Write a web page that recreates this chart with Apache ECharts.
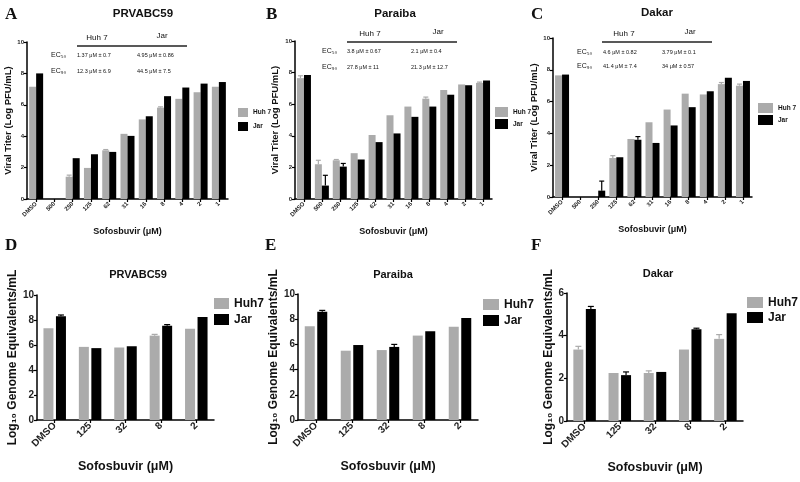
<!DOCTYPE html>
<html>
<head>
<meta charset="utf-8">
<script src="https://cdn.jsdelivr.net/npm/echarts@6/dist/echarts.min.js"></script>
<style>
  html, body { margin: 0; padding: 0; background: #fff; }
  #main { width: 800px; height: 482px; }
</style>
</head>
<body>
<div id="main"></div>
<script>
  // categories
  var topCats = ['DMSO', '500', '250', '125', '62', '31', '16', '8', '4', '2', '1'];
  var botCats = ['DMSO', '125', '32', '8', '2'];

  // A - PRVABC59 viral titer
  var aHuh7 = [7.15, 0, 1.42, 1.98, 3.1, 4.15, 5.07, 5.82, 6.38, 6.8, 7.15];
  var aJar = [8.0, 0, 2.6, 2.85, 3.0, 4.02, 5.27, 6.55, 7.1, 7.35, 7.45];
  var aHuh7Err = [0, 0, 0.1, 0, 0.05, 0, 0, 0.05, 0, 0, 0];
  var aJarErr = [0, 0, 0, 0, 0, 0, 0, 0, 0, 0, 0];
  // B - Paraiba
  var bHuh7 = [7.65, 2.2, 2.45, 2.9, 4.05, 5.3, 5.85, 6.35, 6.9, 7.25, 7.35];
  var bJar = [7.85, 0.85, 2.05, 2.5, 3.6, 4.15, 5.2, 5.85, 6.6, 7.2, 7.5];
  var bHuh7Err = [0.15, 0.25, 0.05, 0, 0, 0, 0, 0.1, 0, 0, 0.05];
  var bJarErr = [0, 0.65, 0.2, 0, 0, 0, 0, 0, 0, 0, 0];
  // C - Dakar
  var cHuh7 = [7.65, 0, 0, 2.45, 3.65, 4.7, 5.5, 6.5, 6.45, 7.1, 7.0];
  var cJar = [7.7, 0, 0.4, 2.5, 3.6, 3.4, 4.5, 5.65, 6.65, 7.5, 7.3];
  var cHuh7Err = [0, 0, 0, 0.15, 0, 0, 0, 0, 0, 0.1, 0.1];
  var cJarErr = [0, 0, 0.6, 0, 0.2, 0, 0, 0, 0, 0, 0];

  // D - PRVABC59 genome equivalents
  var dHuh7 = [7.35, 5.85, 5.8, 6.75, 7.3];
  var dJar = [8.3, 5.75, 5.9, 7.55, 8.25];
  var dHuh7Err = [0, 0, 0, 0.1, 0];
  var dJarErr = [0.1, 0, 0, 0.08, 0];
  // E - Paraiba
  var eHuh7 = [7.45, 5.5, 5.55, 6.7, 7.4];
  var eJar = [8.6, 5.95, 5.8, 7.05, 8.1];
  var eHuh7Err = [0, 0, 0, 0, 0];
  var eJarErr = [0.1, 0, 0.2, 0, 0];
  // F - Dakar
  var fHuh7 = [3.35, 2.25, 2.25, 3.35, 3.85];
  var fJar = [5.25, 2.15, 2.3, 4.3, 5.05];
  var fHuh7Err = [0.15, 0, 0.1, 0, 0.2];
  var fJarErr = [0.12, 0.15, 0, 0.05, 0];

  var GREY = '#ababab';
  var BLACK = '#000';
  var FONT = 'Liberation Sans';

  var panels = [
    {cats: topCats, huh: aHuh7, jar: aJar, huhE: aHuh7Err, jarE: aJarErr, grid: {left: 27, top: 42, width: 201, height: 157}, max: 10, top: true, yGap: 10},
    {cats: topCats, huh: bHuh7, jar: bJar, huhE: bHuh7Err, jarE: bJarErr, grid: {left: 295, top: 41, width: 197, height: 158}, max: 10, top: true, yGap: 15},
    {cats: topCats, huh: cHuh7, jar: cJar, huhE: cHuh7Err, jarE: cJarErr, grid: {left: 553, top: 38, width: 199, height: 159}, max: 10, top: true, yGap: 9},
    {cats: botCats, huh: dHuh7, jar: dJar, huhE: dHuh7Err, jarE: dJarErr, grid: {left: 37, top: 295, width: 177, height: 125}, max: 10, top: false, yGap: 12},
    {cats: botCats, huh: eHuh7, jar: eJar, huhE: eHuh7Err, jarE: eJarErr, grid: {left: 298, top: 294, width: 180, height: 126}, max: 10, top: false, yGap: 9},
    {cats: botCats, huh: fHuh7, jar: fJar, huhE: fHuh7Err, jarE: fJarErr, grid: {left: 567, top: 293, width: 176, height: 128}, max: 6, top: false, yGap: 12}
  ];

  var grids = [], xAxes = [], yAxes = [], series = [];

  function errSeries(i, vals, errs, offset, color, cap) {
    var data = [];
    for (var k = 0; k < vals.length; k++) {
      if (errs[k] > 0) data.push([k, vals[k], errs[k]]);
    }
    return {
      type: 'custom',
      xAxisIndex: i,
      yAxisIndex: i,
      z: 5,
      silent: true,
      data: data,
      renderItem: function (params, api) {
        var base = api.coord([api.value(0), api.value(1)]);
        var tip = api.coord([api.value(0), api.value(1) + api.value(2)]);
        var x = base[0] + offset;
        var st = {stroke: color, lineWidth: 1.2};
        return {
          type: 'group',
          children: [
            {type: 'line', shape: {x1: x, y1: base[1], x2: x, y2: tip[1]}, style: st},
            {type: 'line', shape: {x1: x - cap, y1: tip[1], x2: x + cap, y2: tip[1]}, style: st}
          ]
        };
      }
    };
  }

  panels.forEach(function (p, i) {
    var t = p.top;
    grids.push(p.grid);
    xAxes.push({
      type: 'category',
      gridIndex: i,
      data: p.cats,
      name: 'Sofosbuvir (\u03bcM)',
      nameLocation: 'middle',
      nameGap: t ? 28 : 40,
      nameTextStyle: {fontFamily: FONT, fontWeight: 'bold', fontSize: t ? 9 : 12.5, color: '#111'},
      axisLine: {lineStyle: {color: BLACK, width: 1.5}},
      axisTick: {show: true, alignWithLabel: true, length: 3, lineStyle: {color: BLACK, width: 1.2}},
      axisLabel: {rotate: 45, interval: 0, margin: 4, fontFamily: FONT, fontWeight: 'bold', fontSize: t ? 6 : 10, color: '#222'}
    });
    yAxes.push({
      type: 'value',
      gridIndex: i,
      min: 0,
      max: p.max,
      interval: 2,
      name: t ? 'Viral Titer (Log PFU/mL)' : 'Log\u2081\u2080 Genome Equivalents/mL',
      nameLocation: 'middle',
      nameGap: p.yGap,
      nameTextStyle: {fontFamily: FONT, fontWeight: 'bold', fontSize: t ? 9.5 : 12, color: '#111'},
      splitLine: {show: false},
      axisLine: {show: true, lineStyle: {color: BLACK, width: 1.5}},
      axisTick: {show: true, length: 3, lineStyle: {color: BLACK, width: 1.2}},
      axisLabel: {margin: 3, fontFamily: FONT, fontWeight: 'bold', fontSize: t ? 6 : 10, color: '#222'}
    });
    var bw = t ? 7 : 10;
    var gap = t ? '0%' : '25%';
    var huhName = t ? 'Huh 7' : 'Huh7';
    series.push({
      name: huhName, type: 'bar', xAxisIndex: i, yAxisIndex: i,
      data: p.huh, barWidth: bw, barGap: gap, itemStyle: {color: GREY}
    });
    series.push({
      name: 'Jar', type: 'bar', xAxisIndex: i, yAxisIndex: i,
      data: p.jar, barWidth: bw, barGap: gap, itemStyle: {color: BLACK}
    });
    var off = t ? bw / 2 : bw / 2 + 1.25;
    var cap = t ? 2.5 : 3;
    series.push(errSeries(i, p.huh, p.huhE, -off, GREY, cap));
    series.push(errSeries(i, p.jar, p.jarE, off, BLACK, cap));
  });

  function legend(left, top, names, w, h, fs, gap) {
    return {
      left: left, top: top, orient: 'vertical', data: names,
      itemWidth: w, itemHeight: h, itemGap: gap, icon: 'rect',
      selectedMode: false, padding: 0,
      textStyle: {fontFamily: FONT, fontWeight: 'bold', fontSize: fs, lineHeight: fs + 1, color: '#111'}
    };
  }

  var legends = [
    legend(238, 108, ['Huh 7', 'Jar'], 10, 9, 6.5, 5),
    legend(495, 107, ['Huh 7', 'Jar'], 13, 10, 6.5, 2),
    legend(758, 103, ['Huh 7', 'Jar'], 15, 10, 6.5, 2),
    legend(214, 297, ['Huh7', 'Jar'], 15, 11, 12, 3),
    legend(483, 298, ['Huh7', 'Jar'], 16, 11, 12, 3),
    legend(747, 296, ['Huh7', 'Jar'], 16, 11, 12, 2)
  ];

  // text: panel letters, titles, EC table
  function txt(x, y, s, size, weight, family, align) {
    return {
      type: 'text', x: x, y: y, silent: true,
      style: {text: s, fontSize: size, fontWeight: weight || 'normal', fontFamily: family || FONT,
        fill: '#111', align: align || 'left', verticalAlign: 'middle'}
    };
  }
  function hline(x1, x2, y) {
    return {type: 'line', silent: true, shape: {x1: x1, y1: y, x2: x2, y2: y}, style: {stroke: '#222', lineWidth: 1.3}};
  }

  var ecTables = [
    {x: 77, lineY: 46, huhX: 97, jarX: 162, ecX: 51, col1: 77, col2: 137, y50: 55, y90: 71,
      v: ['1.37 \u03bcM \u00b1 0.7', '4.95 \u03bcM \u00b1 0.86', '12.3 \u03bcM \u00b1 6.9', '44.5 \u03bcM \u00b1 7.5']},
    {x: 347, lineY: 42, huhX: 370, jarX: 438, ecX: 322, col1: 347, col2: 411, y50: 51, y90: 67,
      v: ['3.8 \u03bcM \u00b1 0.67', '2.1 \u03bcM \u00b1 0.4', '27.8 \u03bcM \u00b1 11', '21.3 \u03bcM \u00b1 12.7']},
    {x: 602, lineY: 42, huhX: 624, jarX: 690, ecX: 577, col1: 603, col2: 662, y50: 52, y90: 66,
      v: ['4.6 \u03bcM \u00b1 0.82', '3.79 \u03bcM \u00b1 0.1', '41.4 \u03bcM \u00b1 7.4', '34 \u03bcM \u00b1 0.57']}
  ];

  var graphics = [
    txt(5, 15, 'A', 17, 'bold', 'Liberation Serif'),
    txt(266, 15, 'B', 17, 'bold', 'Liberation Serif'),
    txt(531, 15, 'C', 17, 'bold', 'Liberation Serif'),
    txt(5, 246, 'D', 17, 'bold', 'Liberation Serif'),
    txt(265, 246, 'E', 17, 'bold', 'Liberation Serif'),
    txt(531, 246, 'F', 17, 'bold', 'Liberation Serif'),
    txt(143, 14, 'PRVABC59', 11.5, 'bold', FONT, 'center'),
    txt(395, 14, 'Paraiba', 11.5, 'bold', FONT, 'center'),
    txt(657, 13, 'Dakar', 11.5, 'bold', FONT, 'center'),
    txt(138, 275, 'PRVABC59', 11, 'bold', FONT, 'center'),
    txt(393, 275, 'Paraiba', 11, 'bold', FONT, 'center'),
    txt(658, 274, 'Dakar', 11, 'bold', FONT, 'center')
  ];
  ecTables.forEach(function (e) {
    graphics.push(hline(e.x, e.x + 110, e.lineY));
    graphics.push(txt(e.huhX, e.lineY - 8, 'Huh 7', 8, 'normal', FONT, 'center'));
    graphics.push(txt(e.jarX, e.lineY - 10, 'Jar', 8, 'normal', FONT, 'center'));
    graphics.push(txt(e.ecX, e.y50, 'EC\u2085\u2080', 7));
    graphics.push(txt(e.ecX, e.y90, 'EC\u2089\u2080', 7));
    graphics.push(txt(e.col1, e.y50, e.v[0], 5.5));
    graphics.push(txt(e.col2, e.y50, e.v[1], 5.5));
    graphics.push(txt(e.col1, e.y90, e.v[2], 5.5));
    graphics.push(txt(e.col2, e.y90, e.v[3], 5.5));
  });

  var myChart = echarts.init(document.getElementById('main'));
  var option = {
    backgroundColor: '#fff',
    animation: false,
    grid: grids,
    xAxis: xAxes,
    yAxis: yAxes,
    legend: legends,
    graphic: graphics,
    series: series
  };
  myChart.setOption(option);
</script>
</body>
</html>
